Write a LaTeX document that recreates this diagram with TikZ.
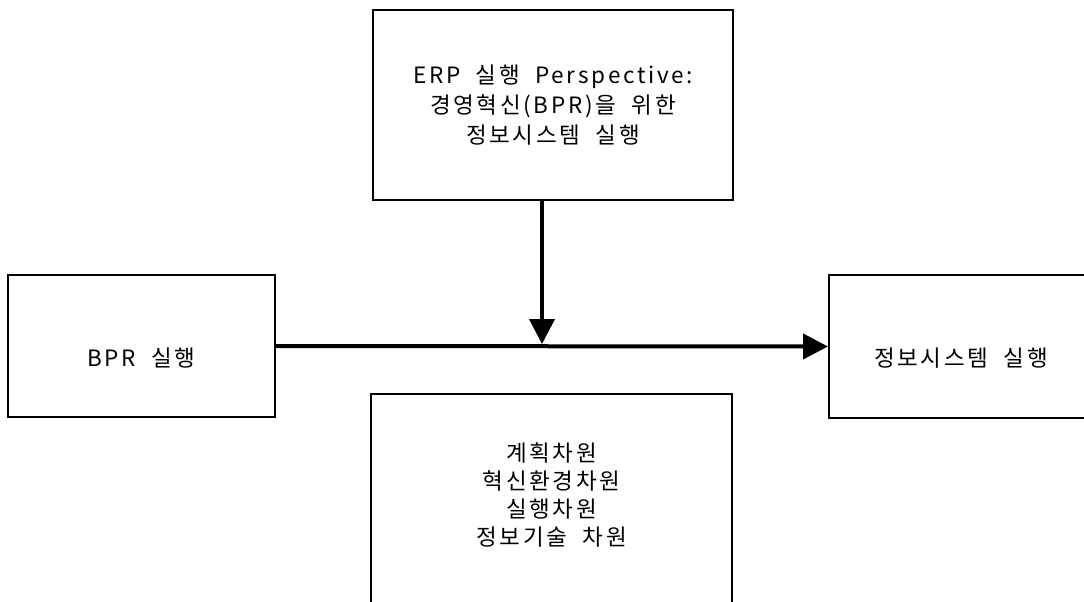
\documentclass[tikz,border=0pt]{standalone}
\usepackage{fontspec}
\setmainfont{Noto Sans CJK KR}[LetterSpace=12,WordSpace=2]
\usetikzlibrary{arrows.meta}
\begin{document}
\begin{tikzpicture}[x=1pt,y=-1pt,
  box/.style={draw, line width=2pt, inner sep=0pt, align=center},
  label1/.style={font=\fontsize{22.5}{30}\selectfont},
  label2/.style={font=\fontsize{22.5}{28}\selectfont},
  lowtext/.style={text height=40pt, text depth=0pt},
  flow/.style={line width=4pt, -{Triangle[length=25pt,width=25pt]}}]
\useasboundingbox (0,0) rectangle (1084,602);
\clip (0,0) rectangle (1084,602);

% perspective box at the top
\node[box, label1, minimum width=360pt, minimum height=190pt] (erp) at (553,105)
  {ERP 실행 Perspective:\\경영혁신(BPR)을 위한\\정보시스템 실행};

% source and target of the main flow
\node[box, label1, lowtext, minimum width=267pt, minimum height=142pt] (bpr) at (141.5,346) {BPR 실행};
\node[box, label1, lowtext, minimum width=264pt, minimum height=143pt] (impl) at (961,346.5) {정보시스템 실행};

% dimensions box, open at the bottom
\node[box, label2, draw=none, minimum width=359pt, minimum height=200pt] (dims) at (551.5,495)
  {계획차원\\혁신환경차원\\실행차원\\정보기술 차원};
\draw[line width=2pt] (dims.south west) ++(0,-20pt) -- (dims.north west) -- (dims.north east) -- ++(0,-230pt);

% main flow and the perspective acting on it
\coordinate (meet) at (542,344);
\draw[flow] (bpr.east) -- (impl.west);
\draw[flow] (erp.south -| meet) -- (meet);
\end{tikzpicture}
\end{document}
